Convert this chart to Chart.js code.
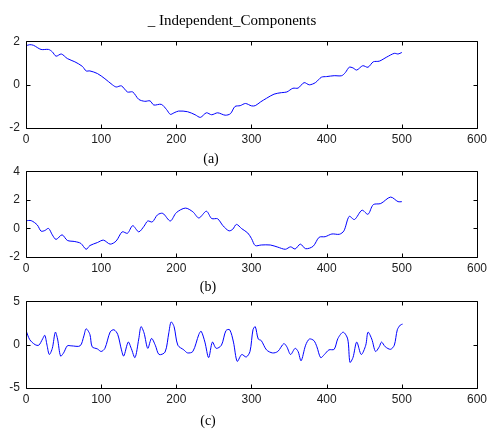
<!DOCTYPE html>
<html>
<head>
<meta charset="utf-8">
<script src="https://cdn.jsdelivr.net/npm/chart.js@4.4.0/dist/chart.umd.min.js"></script>
<style>
body { margin: 0; background: #fff; }
#wrap { position: relative; width: 491px; height: 429px; background: #fff; overflow: hidden; }
.box { position: absolute; left: 0; width: 491px; }
.lbl { position: absolute; transform: translate(-50%, -50%); font-family: "Liberation Serif", "Times New Roman", serif; color: #000; white-space: nowrap; }
</style>
</head>
<body>
<div id="wrap">
  <div class="box" style="top:28px;height:122px"><canvas id="chartA"></canvas></div>
  <div class="box" style="top:158px;height:121px"><canvas id="chartB"></canvas></div>
  <div class="box" style="top:288px;height:122px"><canvas id="chartC"></canvas></div>
  <div class="lbl" style="left:232px;top:20px;font-size:15px">_ Independent_Components</div>
  <div class="lbl" style="left:211px;top:159px;font-size:14px">(a)</div>
  <div class="lbl" style="left:208px;top:287px;font-size:14px">(b)</div>
  <div class="lbl" style="left:208px;top:421px;font-size:14px">(c)</div>
</div>
<script>
// component (a)
const xA = [0,5,10,20,30,35,40,47,55,65,75,80,85,95,105,115,120,127,135,142,150,158,165,170,180,187,192,197,203,215,225,232,240,247,255,265,272,278,285,292,300,305,312,320,330,340,347,355,362,370,377,385,393,400,410,420,425,430,435,440,448,455,462,470,480,490,495,500];
const yA = [1.79,1.84,1.81,1.62,1.62,1.51,1.31,1.41,1.20,1.05,0.84,0.63,0.63,0.51,0.27,-0.01,-0.11,-0.06,-0.34,-0.34,-0.68,-0.77,-0.75,-0.94,-0.91,-1.15,-1.37,-1.30,-1.22,-1.25,-1.39,-1.51,-1.30,-1.39,-1.30,-1.41,-1.34,-1.01,-0.97,-0.87,-0.98,-0.97,-0.80,-0.63,-0.44,-0.37,-0.34,-0.17,-0.16,0.09,-0.01,0.09,0.34,0.37,0.41,0.41,0.56,0.80,0.77,0.67,0.87,0.80,1.05,1.08,1.27,1.44,1.41,1.48];

// component (b)
const xB = [0,7,15,20,25,30,35,40,48,55,65,73,80,85,95,103,112,120,128,135,142,150,157,162,168,175,182,192,200,212,222,230,240,247,255,262,270,275,280,287,295,300,305,313,325,335,345,352,358,365,372,382,390,398,407,417,423,430,437,447,455,462,472,485,495,500];
const yB = [0.54,0.54,0.24,-0.19,-0.15,0.0,-0.45,-0.77,-0.45,-0.84,-0.92,-1.05,-1.46,-1.20,-0.99,-0.82,-1.10,-0.88,-0.24,-0.34,0.19,-0.24,0.15,0.52,0.45,0.95,1.05,0.52,1.10,1.42,1.16,0.73,1.20,0.69,0.67,0.19,-0.17,-0.06,0.28,-0.02,-0.32,-0.71,-1.20,-1.16,-1.16,-1.31,-1.46,-1.29,-1.44,-1.10,-1.42,-1.25,-0.62,-0.58,-0.39,-0.41,-0.17,0.84,0.62,1.27,0.99,1.66,1.74,2.19,1.87,1.87];

// component (c)
const xC = [0,5,12,17,22,25,28,31,35,39,42,46,50,55,60,72,77,80,85,88,95,100,105,112,117,122,127,130,136,140,145,150,153,157,162,167,172,177,185,190,193,197,202,210,215,222,230,233,238,243,248,253,260,266,271,276,281,287,293,298,302,305,309,313,320,328,335,343,347,352,358,362,366,372,377,383,387,392,397,403,410,415,422,428,431,435,440,446,452,455,460,465,470,473,478,485,490,494,498,501];
const yC = [1.64,0.57,0.0,-0.07,0.64,1.07,-0.07,-1.14,-0.43,1.43,0.64,-1.32,-0.96,-0.14,-0.14,-0.14,1.0,1.82,1.18,-0.25,-0.5,-0.79,-0.43,1.46,1.71,1.18,-0.61,-1.32,0.29,-0.43,-1.5,0.64,2.07,1.36,-0.43,0.71,-0.07,-1.14,-0.86,1.36,2.61,2.07,-0.07,-0.61,-0.96,-0.79,1.18,1.54,0.29,-1.5,0.29,-0.43,-0.07,1.61,1.71,0.29,-1.93,-1.14,-1.43,-0.79,1.71,2.07,0.64,0.46,-0.61,-0.96,-0.79,0.11,-0.25,-1.14,-0.43,-0.79,-1.86,-0.07,0.64,0.46,-0.25,-1.5,-1.14,-0.61,-0.54,0.71,1.43,0.64,-2.04,-1.5,0.29,-1.14,-0.07,1.43,0.64,-0.79,-0.25,0.29,-0.25,-0.54,-0.07,1.71,2.25,2.36];

const xTicks = [0,100,200,300,400,500,600];

// matlab style box with inward ticks
const boxTicks = {
  id: 'boxTicks',
  afterDraw(chart) {
    const ctx = chart.ctx;
    const a = chart.chartArea;
    const sx = chart.scales.x, sy = chart.scales.y;
    const l = Math.round(a.left) + 0.5, r = Math.round(a.right) + 0.5;
    const t = Math.round(a.top) + 0.5, b = Math.round(a.bottom) + 0.5;
    ctx.save();
    ctx.strokeStyle = '#000';
    ctx.lineWidth = 1;
    ctx.beginPath();
    ctx.rect(l, t, r - l, b - t);
    sx.ticks.forEach(tk => {
      const px = Math.round(sx.getPixelForValue(tk.value)) + 0.5;
      ctx.moveTo(px, b); ctx.lineTo(px, b - 4);
      ctx.moveTo(px, t); ctx.lineTo(px, t + 4);
    });
    sy.ticks.forEach(tk => {
      const py = Math.round(sy.getPixelForValue(tk.value)) + 0.5;
      ctx.moveTo(l, py); ctx.lineTo(l + 4, py);
      ctx.moveTo(r, py); ctx.lineTo(r - 4, py);
    });
    ctx.stroke();
    ctx.restore();
  }
};

function makeChart(id, xs, ys, yMin, yMax, yStep) {
  const ctx = document.getElementById(id).getContext('2d');
  return new Chart(ctx, {
    type: 'line',
    data: {
      datasets: [{
        data: xs.map((x, i) => ({ x: x, y: ys[i] })),
        borderColor: '#0000ff',
        borderWidth: 1,
        pointRadius: 0,
        tension: 0.3,
        fill: false
      }]
    },
    options: {
      responsive: true,
      maintainAspectRatio: false,
      animation: false,
      layout: { padding: { top: 6, right: 12, left: 0, bottom: 0 } },
      plugins: { legend: { display: false }, tooltip: { enabled: false } },
      scales: {
        x: {
          type: 'linear', min: 0, max: 600,
          afterBuildTicks: s => { s.ticks = xTicks.map(v => ({ value: v })); },
          afterFit: s => { s.height = 22; },
          grid: { drawOnChartArea: false, drawTicks: false },
          border: { display: false },
          ticks: { padding: 4, maxRotation: 0, color: '#222', font: { family: 'Liberation Sans, Arial, sans-serif', size: 12 } }
        },
        y: {
          min: yMin, max: yMax,
          afterFit: s => { s.width = 26; },
          grid: { drawOnChartArea: false, drawTicks: false },
          border: { display: false },
          ticks: { stepSize: yStep, padding: 6, color: '#222', font: { family: 'Liberation Sans, Arial, sans-serif', size: 12 } }
        }
      }
    },
    plugins: [boxTicks]
  });
}

makeChart('chartA', xA, yA, -2, 2, 2);
makeChart('chartB', xB, yB, -2, 4, 2);
makeChart('chartC', xC, yC, -5, 5, 5);
</script>
</body>
</html>
